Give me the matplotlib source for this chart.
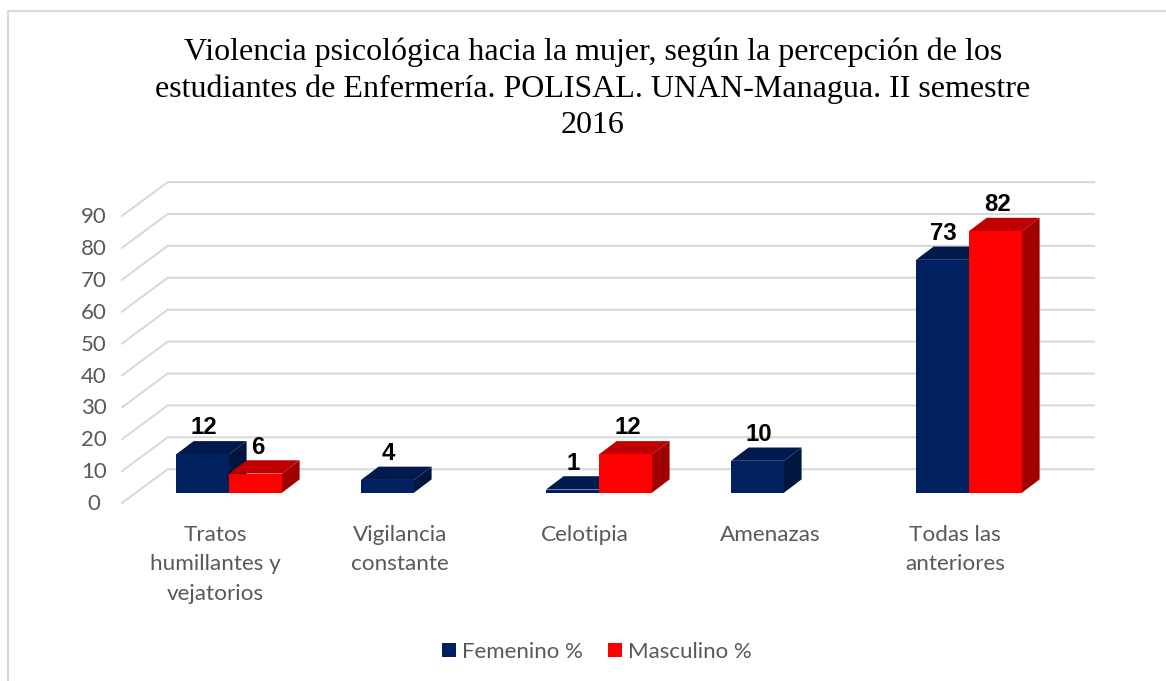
import matplotlib
matplotlib.use("Agg")
import matplotlib.pyplot as plt
from matplotlib.patches import Polygon, Patch

categories = ["Tratos\nhumillantes y\nvejatorios", "Vigilancia\nconstante", "Celotipia", "Amenazas", "Todas las\nanteriores"]
femenino = [12, 4, 1, 10, 73]
masculino = [6, 0, 12, 0, 82]
y_ticks = [0, 10, 20, 30, 40, 50, 60, 70, 80, 90]
title = ("Violencia psicológica hacia la mujer, según la percepción de los\n"
         "estudiantes de Enfermería. POLISAL. UNAN-Managua. II semestre\n"
         "2016")

W, H = 1166, 681
x_px = 185.0      # pixels per category
y_px = 3.19       # pixels per value unit
x0_px = 229.0     # where category 0 sits
y0_px = 492.7     # bar base, value 0

bar_w = 53 / x_px
dx = 17.6 / x_px  # bar depth
dy = 13.3 / y_px

fig = plt.figure(figsize=(W / 100, H / 100), dpi=100)
ax = fig.add_axes([0, 0, 1, 1])
ax.set_xlim(-x0_px / x_px, (W - x0_px) / x_px)
ax.set_ylim((y0_px - H) / y_px, y0_px / y_px)
ax.axis("off")


def px_x(p):
    return (p - x0_px) / x_px


def px_y(p):
    return (y0_px - p) / y_px


# frame round the chart, only left and top are visible
ax.plot([px_x(8.5), px_x(8.5), px_x(W)], [px_y(H), px_y(11), px_y(11)], color="#d9d9d9", lw=1.5, zorder=1)

# back wall and floor gridlines
grid_back = 23.5 / y_px
grid_front = -10.3 / y_px
for v in y_ticks:
    ax.plot([px_x(122), px_x(167.7), px_x(1094)],
            [v + grid_front, v + grid_back, v + grid_back],
            color="#d9d9d9", lw=1.5, zorder=1, solid_joinstyle="miter")
    ax.text(px_x(94), v - 3.6, str(v), ha="center", va="center",
            fontsize=16, color="#595959", family="Lato")


def draw_bar(left, val, front, top, side, z):
    right = left + bar_w
    ax.add_patch(Polygon([(left, 0), (right, 0), (right, val), (left, val)], fc=front, ec="none", zorder=z + 2))
    ax.add_patch(Polygon([(left, val), (right, val), (right + dx, val + dy), (left + dx, val + dy)], fc=top, ec="none", zorder=z + 1))
    ax.add_patch(Polygon([(right, 0), (right + dx, dy), (right + dx, val + dy), (right, val)], fc=side, ec="none", zorder=z))


label_off = 26.5 / y_px
for i in range(len(categories)):
    if femenino[i] > 0:
        draw_bar(i - bar_w, femenino[i], "#002060", "#001a4e", "#00163f", 3)
        ax.text(i - bar_w / 2 + 1 / x_px, femenino[i] + label_off, str(femenino[i]), ha="center", va="center",
                fontsize=17.3, fontweight="bold", color="black", family="Liberation Sans", zorder=10)
    if masculino[i] > 0:
        draw_bar(i, masculino[i], "#ff0000", "#c00000", "#a00000", 6)
        ax.text(i + bar_w / 2 + 2 / x_px, masculino[i] + label_off, str(masculino[i]), ha="center", va="center",
                fontsize=17.3, fontweight="bold", color="black", family="Liberation Sans", zorder=10)
    ax.text(i - 14 / x_px, px_y(525), categories[i], ha="center", va="top",
            fontsize=16.2, color="#595959", family="Lato", linespacing=1.58)

ax.text(px_x(593), px_y(88.7), title, ha="center", va="center", fontsize=23.05,
        color="black", family="Liberation Serif", linespacing=1.34)

handles = [Patch(fc="#002060", label="Femenino %"), Patch(fc="#ff0000", label="Masculino %")]
leg = ax.legend(handles=handles, ncol=2, frameon=False, loc="center",
                bbox_to_anchor=(597 / W, 1 - 652 / H), handlelength=0.63, handleheight=0.63,
                handletextpad=0.25, columnspacing=1.15, labelcolor="#595959",
                prop={"family": "Lato", "size": 16})

fig.savefig("out.png", dpi=100)
